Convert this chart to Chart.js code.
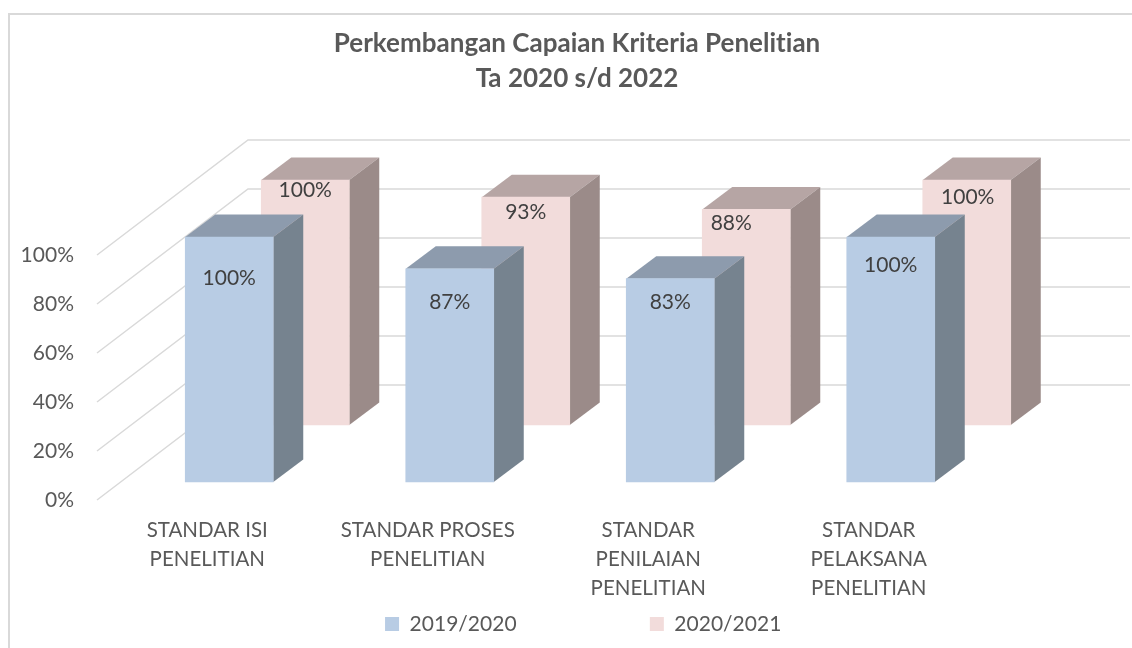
<!DOCTYPE html>
<html lang="en">
<head>
    <meta charset="UTF-8">
    <title>Perkembangan Capaian Kriteria Penelitian</title>
    <script src="https://cdn.jsdelivr.net/npm/chart.js"></script>
    <style>
        body {
            margin: 0;
            background-color: #fff;
        }
        canvas {
            display: block;
        }
    </style>
</head>
<body>
    <canvas id="chart" width="1132" height="648"></canvas>

    <script>
        // Values
        const categories = [
            ['STANDAR ISI', 'PENELITIAN'],
            ['STANDAR PROSES', 'PENELITIAN'],
            ['STANDAR', 'PENILAIAN', 'PENELITIAN'],
            ['STANDAR', 'PELAKSANA', 'PENELITIAN']
        ];
        const seriesNames = ['2019/2020', '2020/2021'];
        const values2019 = [100, 87, 83, 100];
        const values2020 = [100, 93, 88, 100];

        const FONT = 'Lato, sans-serif';
        const TEXT = '#595959';

        // Fake 3D: each series sits at its own depth, [dx, dy] from the axis plane
        const seriesShift = [[22, -18], [98, -75]];
        const barDepth = [30, -22.5];
        const faceColors = [
            { top: '#8d9bad', side: '#76838f' },
            { top: '#b6a5a4', side: '#9b8b89' }
        ];
        const wallShift = [151, -115];
        // Data labels were moved by hand in the original, [dx, dy] from bar top centre
        const labelNudge = [
            [[0, 41], [0, 33], [0, 24], [0, 28]],
            [[0, 10], [0, 15], [-15, 14], [1, 17]]
        ];

        const depthPlugin = {
            id: 'depth',
            afterLayout(chart) {
                // legend is centred on the full box, the original sits a bit to the right
                chart.legend.left += 6;
                chart.legend.right += 6;
            },
            beforeDraw(chart) {
                // stops Lato joining "ti" into a ligature
                chart.ctx.letterSpacing = '0.01px';
            },
            beforeDatasetsDraw(chart) {
                const ctx = chart.ctx;
                const area = chart.chartArea;
                ctx.save();
                ctx.strokeStyle = '#d9d9d9';
                ctx.lineWidth = 1.5;
                chart.scales.y.ticks.forEach(t => {
                    const y = chart.scales.y.getPixelForValue(t.value);
                    ctx.beginPath();
                    ctx.moveTo(area.left, y);
                    ctx.lineTo(area.left + wallShift[0], y + wallShift[1]);
                    ctx.lineTo(chart.width - 2, y + wallShift[1]);
                    ctx.stroke();
                });
                ctx.restore();
            },
            beforeDatasetDraw(chart, args) {
                const ctx = chart.ctx;
                const shift = seriesShift[args.index];
                const faces = faceColors[args.index];
                ctx.save();
                ctx.translate(shift[0], shift[1]);
                args.meta.data.forEach(bar => {
                    const l = bar.x - bar.width / 2;
                    const r = bar.x + bar.width / 2;
                    const dx = barDepth[0];
                    const dy = barDepth[1];
                    ctx.fillStyle = faces.top;
                    ctx.beginPath();
                    ctx.moveTo(l, bar.y);
                    ctx.lineTo(l + dx, bar.y + dy);
                    ctx.lineTo(r + dx, bar.y + dy);
                    ctx.lineTo(r, bar.y);
                    ctx.closePath();
                    ctx.fill();
                    ctx.fillStyle = faces.side;
                    ctx.beginPath();
                    ctx.moveTo(r, bar.y);
                    ctx.lineTo(r + dx, bar.y + dy);
                    ctx.lineTo(r + dx, bar.base + dy);
                    ctx.lineTo(r, bar.base);
                    ctx.closePath();
                    ctx.fill();
                });
            },
            afterDatasetDraw(chart, args) {
                const ctx = chart.ctx;
                const values = chart.data.datasets[args.index].data;
                ctx.font = '21px ' + FONT;
                ctx.fillStyle = '#404040';
                ctx.textAlign = 'center';
                ctx.textBaseline = 'middle';
                args.meta.data.forEach((bar, i) => {
                    const nudge = labelNudge[args.index][i];
                    ctx.fillText(values[i] + '%', bar.x + nudge[0], bar.y + nudge[1]);
                });
                ctx.restore();
            },
            afterDraw(chart) {
                // Only the top and left of the chart frame show in the picture
                const ctx = chart.ctx;
                ctx.save();
                ctx.strokeStyle = '#d9d9d9';
                ctx.lineWidth = 2;
                ctx.beginPath();
                ctx.moveTo(9, chart.height);
                ctx.lineTo(9, 14);
                ctx.lineTo(chart.width, 14);
                ctx.stroke();
                ctx.restore();
            }
        };

        new Chart(document.getElementById('chart'), {
            type: 'bar',
            plugins: [depthPlugin],
            data: {
                labels: categories,
                datasets: [{
                    label: seriesNames[0],
                    data: values2019,
                    backgroundColor: '#b8cce4',
                    clip: false
                }, {
                    label: seriesNames[1],
                    data: values2020,
                    backgroundColor: '#f2dcdb',
                    clip: false
                }]
            },
            options: {
                responsive: false,
                animation: false,
                grouped: false,
                barThickness: 88,
                layout: {
                    padding: { left: 22, right: 0, top: 12, bottom: 3.5 }
                },
                scales: {
                    y: {
                        min: 0,
                        max: 100,
                        border: { display: false },
                        grid: { display: false, drawTicks: false },
                        ticks: {
                            stepSize: 20,
                            padding: 23,
                            color: TEXT,
                            font: { family: FONT, size: 21 },
                            callback: v => v + '%'
                        },
                        afterFit(scale) {
                            scale.width = 75;
                        }
                    },
                    // empty axis, keeps the plot clear of the space the back wall runs into
                    yRight: {
                        position: 'right',
                        border: { display: false },
                        grid: { display: false },
                        ticks: { display: false },
                        afterFit(scale) {
                            scale.width = 153;
                        }
                    },
                    x: {
                        border: { display: false },
                        grid: { display: false, drawTicks: false },
                        ticks: {
                            padding: 15.5,
                            maxRotation: 0,
                            color: TEXT,
                            font: { family: FONT, size: 20.5, lineHeight: '29px' }
                        },
                        afterFit(scale) {
                            scale.height = 109.5;
                        }
                    }
                },
                plugins: {
                    title: {
                        display: true,
                        text: ['Perkembangan Capaian Kriteria Penelitian', 'Ta 2020 s/d 2022'],
                        color: TEXT,
                        font: { family: FONT, size: 26, weight: 'bold', lineHeight: '35px' },
                        padding: { top: 14.5, bottom: 158.5 }
                    },
                    legend: {
                        position: 'bottom',
                        labels: {
                            boxWidth: 14,
                            boxHeight: 14,
                            padding: 4,
                            color: TEXT,
                            font: { family: FONT, size: 21 },
                            // no separate setting for the gap between items, it would also grow the legend's height
                            generateLabels(chart) {
                                const items = Chart.defaults.plugins.legend.labels.generateLabels(chart);
                                items[0].text += '\u00a0'.repeat(24);
                                return items;
                            }
                        }
                    },
                    tooltip: { enabled: false }
                }
            }
        });
    </script>
</body>
</html>
